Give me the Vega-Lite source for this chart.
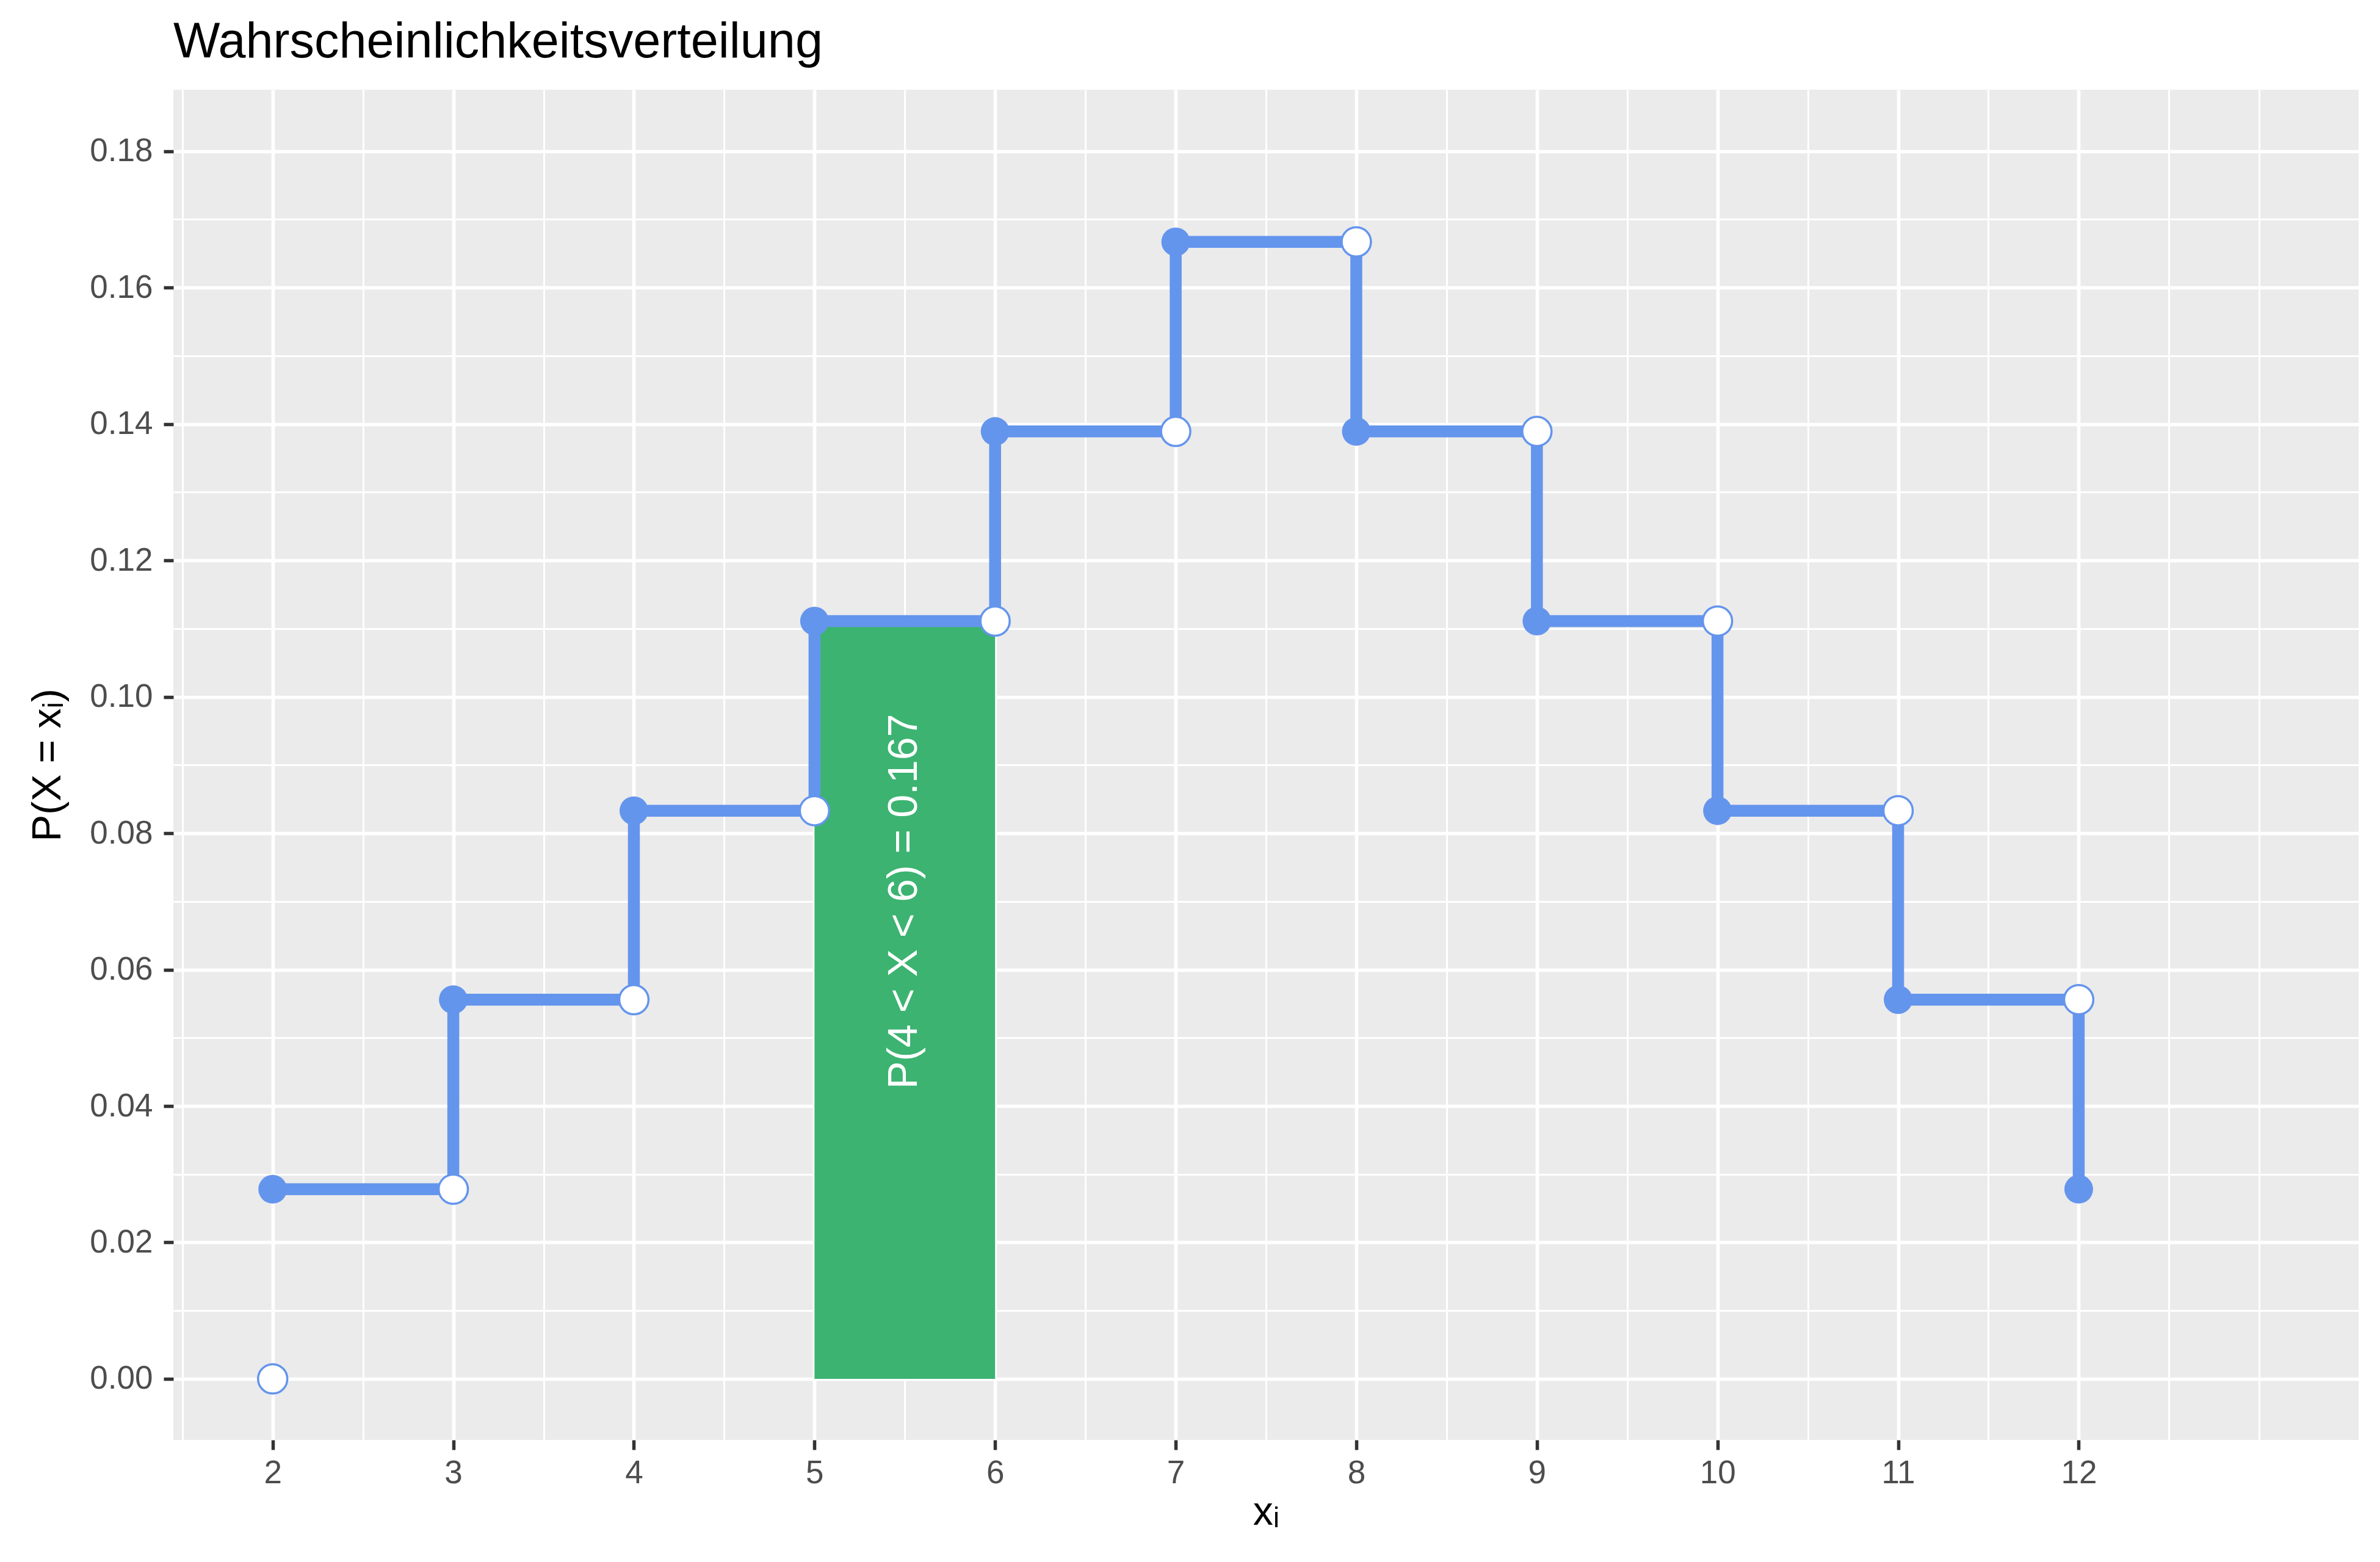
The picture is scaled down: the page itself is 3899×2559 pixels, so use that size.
{
  "$schema": "https://vega.github.io/schema/vega-lite/v6.json",
  "width": 3580,
  "height": 2212,
  "autosize": "none",
  "padding": {"left": 284, "top": 147, "right": 35, "bottom": 200},
  "background": "white",
  "title": {
    "text": "Wahrscheinlichkeitsverteilung",
    "anchor": "start",
    "frame": "group",
    "fontSize": 81,
    "font": "Liberation Sans",
    "fontWeight": "normal",
    "color": "black",
    "baseline": "alphabetic",
    "offset": -28
  },
  "config": {
    "view": {"fill": "#EBEBEB", "stroke": null},
    "axis": {
      "domain": false,
      "grid": true,
      "gridColor": "white",
      "tickColor": "#333333",
      "tickWidth": 5.5,
      "tickSize": 16,
      "labelFont": "Liberation Sans",
      "labelFontSize": 53,
      "labelColor": "#4D4D4D",
      "labelOverlap": false,
      "labelFlush": false,
      "titleFont": "Liberation Sans",
      "titleFontSize": 66,
      "titleFontWeight": "normal",
      "titleColor": "black"
    }
  },
  "datasets": {
    "segments": [
      {"x": 2, "x2": 3, "y": 0.0278, "y2": 0.0278},
      {"x": 3, "x2": 4, "y": 0.0556, "y2": 0.0556},
      {"x": 4, "x2": 5, "y": 0.0833, "y2": 0.0833},
      {"x": 5, "x2": 6, "y": 0.1111, "y2": 0.1111},
      {"x": 6, "x2": 7, "y": 0.1389, "y2": 0.1389},
      {"x": 7, "x2": 8, "y": 0.1667, "y2": 0.1667},
      {"x": 8, "x2": 9, "y": 0.1389, "y2": 0.1389},
      {"x": 9, "x2": 10, "y": 0.1111, "y2": 0.1111},
      {"x": 10, "x2": 11, "y": 0.0833, "y2": 0.0833},
      {"x": 11, "x2": 12, "y": 0.0556, "y2": 0.0556},
      {"x": 3, "x2": 3, "y": 0.0278, "y2": 0.0556},
      {"x": 4, "x2": 4, "y": 0.0556, "y2": 0.0833},
      {"x": 5, "x2": 5, "y": 0.0833, "y2": 0.1111},
      {"x": 6, "x2": 6, "y": 0.1111, "y2": 0.1389},
      {"x": 7, "x2": 7, "y": 0.1389, "y2": 0.1667},
      {"x": 8, "x2": 8, "y": 0.1667, "y2": 0.1389},
      {"x": 9, "x2": 9, "y": 0.1389, "y2": 0.1111},
      {"x": 10, "x2": 10, "y": 0.1111, "y2": 0.0833},
      {"x": 11, "x2": 11, "y": 0.0833, "y2": 0.0556},
      {"x": 12, "x2": 12, "y": 0.0556, "y2": 0.0278}
    ],
    "points": [
      {"x": 2, "p": 0.0278, "kind": "filled"},
      {"x": 3, "p": 0.0556, "kind": "filled"},
      {"x": 4, "p": 0.0833, "kind": "filled"},
      {"x": 5, "p": 0.1111, "kind": "filled"},
      {"x": 6, "p": 0.1389, "kind": "filled"},
      {"x": 7, "p": 0.1667, "kind": "filled"},
      {"x": 8, "p": 0.1389, "kind": "filled"},
      {"x": 9, "p": 0.1111, "kind": "filled"},
      {"x": 10, "p": 0.0833, "kind": "filled"},
      {"x": 11, "p": 0.0556, "kind": "filled"},
      {"x": 12, "p": 0.0278, "kind": "filled"},
      {"x": 2, "p": 0.0, "kind": "open"},
      {"x": 3, "p": 0.0278, "kind": "open"},
      {"x": 4, "p": 0.0556, "kind": "open"},
      {"x": 5, "p": 0.0833, "kind": "open"},
      {"x": 6, "p": 0.1111, "kind": "open"},
      {"x": 7, "p": 0.1389, "kind": "open"},
      {"x": 8, "p": 0.1667, "kind": "open"},
      {"x": 9, "p": 0.1389, "kind": "open"},
      {"x": 10, "p": 0.1111, "kind": "open"},
      {"x": 11, "p": 0.0833, "kind": "open"},
      {"x": 12, "p": 0.0556, "kind": "open"}
    ],
    "area": [
      {"x": 5, "x2": 6, "y": 0, "y2": 0.1111}
    ],
    "label": [
      {"x": 5.5, "y": 0.07, "text": "P(4 < X < 6) = 0.167"}
    ]
  },
  "layer": [
    {
      "data": {"name": "area"},
      "mark": {"type": "rect", "color": "#3CB371"},
      "encoding": {
        "x": {
          "field": "x", "type": "quantitative",
          "scale": {"domain": [1.45, 13.55], "nice": false, "zero": false},
          "axis": {
            "values": [1.5, 2, 2.5, 3, 3.5, 4, 4.5, 5, 5.5, 6, 6.5, 7, 7.5, 8, 8.5, 9, 9.5, 10, 10.5, 11, 11.5, 12, 12.5, 13],
            "tickCount": 200,
            "labelExpr": "(datum.value % 1 === 0 && datum.value <= 12) ? format(datum.value, 'd') : ''",
            "gridWidth": {"condition": {"test": "datum.value % 1 === 0 && datum.value <= 12", "value": 5.7}, "value": 3},
            "tickOpacity": {"condition": {"test": "datum.value % 1 === 0 && datum.value <= 12", "value": 1}, "value": 0},
            "labelPadding": 12,
            "title": "xᵢ",
            "titlePadding": 5
          }
        },
        "x2": {"field": "x2"},
        "y": {
          "field": "y", "type": "quantitative",
          "scale": {"domain": [-0.00895, 0.189], "nice": false, "zero": false},
          "axis": {
            "values": [0, 0.01, 0.02, 0.03, 0.04, 0.05, 0.06, 0.07, 0.08, 0.09, 0.1, 0.11, 0.12, 0.13, 0.14, 0.15, 0.16, 0.17, 0.18],
            "tickCount": 200,
            "labelExpr": "round(datum.value * 100) % 2 === 0 ? format(datum.value, '.2f') : ''",
            "gridWidth": {"condition": {"test": "round(datum.value * 100) % 2 === 0", "value": 5.7}, "value": 3},
            "tickOpacity": {"condition": {"test": "round(datum.value * 100) % 2 === 0", "value": 1}, "value": 0},
            "labelPadding": 18,
            "title": "P(X = xᵢ)",
            "titlePadding": 34
          }
        },
        "y2": {"field": "y2"}
      }
    },
    {
      "data": {"name": "segments"},
      "mark": {"type": "rule", "color": "#6495ED", "strokeWidth": 19.5, "strokeCap": "butt"},
      "encoding": {
        "x": {"field": "x", "type": "quantitative"},
        "x2": {"field": "x2"},
        "y": {"field": "y", "type": "quantitative"},
        "y2": {"field": "y2"}
      }
    },
    {
      "data": {"name": "points"},
      "transform": [{"filter": "datum.kind === 'filled'"}],
      "mark": {"type": "point", "shape": "circle", "filled": true, "color": "#6495ED", "opacity": 1, "size": 2209, "strokeWidth": 0},
      "encoding": {
        "x": {"field": "x", "type": "quantitative"},
        "y": {"field": "p", "type": "quantitative"}
      }
    },
    {
      "data": {"name": "points"},
      "transform": [{"filter": "datum.kind === 'open'"}],
      "mark": {"type": "point", "shape": "circle", "filled": true, "fill": "white", "stroke": "#6495ED", "strokeWidth": 3.5, "opacity": 1, "fillOpacity": 1, "strokeOpacity": 1, "size": 2300},
      "encoding": {
        "x": {"field": "x", "type": "quantitative"},
        "y": {"field": "p", "type": "quantitative"}
      }
    },
    {
      "data": {"name": "label"},
      "mark": {"type": "text", "angle": 270, "color": "white", "font": "Liberation Sans", "fontSize": 68, "align": "center", "baseline": "middle"},
      "encoding": {
        "x": {"field": "x", "type": "quantitative"},
        "y": {"field": "y", "type": "quantitative"},
        "text": {"field": "text"}
      }
    }
  ]
}
